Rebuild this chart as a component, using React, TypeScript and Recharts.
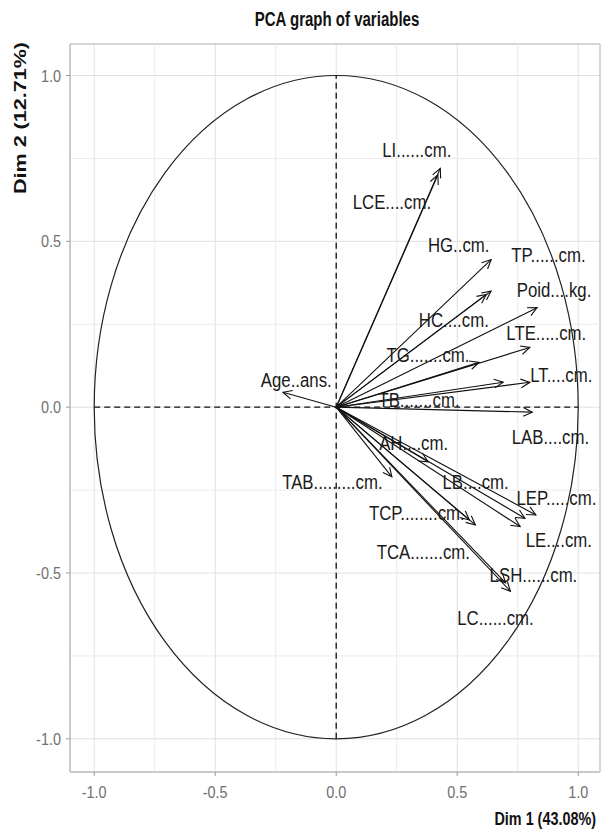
import React from 'react';
import { ScatterChart, Scatter, XAxis, YAxis, CartesianGrid, ReferenceLine, ReferenceArea } from 'recharts';

const variables = ['LI......cm.', 'LCE....cm.', 'HG..cm.', 'TP......cm.', 'HC....cm.', 'Poid....kg.', 'LTE.....cm.', 'TG.......cm.', 'TB.......cm.', 'LT....cm.', 'LAB....cm.', 'Age..ans.', 'AH....cm.', 'TAB.........cm.', 'LB....cm.', 'LEP.....cm.', 'LE....cm.', 'TCP........cm.', 'TCA.......cm.', 'LSH......cm.', 'LC......cm.'];
const dim1 = [0.43, 0.42, 0.64, 0.64, 0.62, 0.83, 0.8, 0.59, 0.69, 0.8, 0.81, -0.22, 0.38, 0.23, 0.78, 0.825, 0.76, 0.575, 0.55, 0.7, 0.72];
const dim2 = [0.72, 0.7, 0.445, 0.35, 0.34, 0.3, 0.18, 0.135, 0.075, 0.075, -0.015, 0.045, -0.165, -0.21, -0.335, -0.325, -0.36, -0.355, -0.34, -0.53, -0.555];
const labelDim1 = [0.333, 0.23, 0.506, 0.877, 0.486, 0.9, 0.868, 0.379, 0.342, 0.93, 0.885, -0.165, 0.32, -0.016, 0.576, 0.91, 0.92, 0.333, 0.36, 0.815, 0.658];
const labelDim2 = [0.777, 0.62, 0.49, 0.46, 0.264, 0.355, 0.225, 0.158, 0.023, 0.098, -0.089, 0.083, -0.107, -0.225, -0.225, -0.273, -0.4, -0.32, -0.436, -0.505, -0.635];

const xTicks = [-1, -0.5, 0, 0.5, 1];
const yTicks = [-1, -0.5, 0, 0.5, 1];
const minorTicks = [-0.75, -0.25, 0.25, 0.75];
const xDomain = [-1.1, 1.09];
const yDomain = [-1.1, 1.095];

const title = 'PCA graph of variables';
const xTitle = 'Dim 1 (43.08%)';
const yTitle = 'Dim 2 (12.71%)';

const labelData = variables.map((name, i) => ({ name, x: labelDim1[i], y: labelDim2[i] }));

const FONT = '"Liberation Sans", Arial, sans-serif';

const ArrowShape = (props: any) => {
  const { x1, y1, x2, y2 } = props;
  if ([x1, y1, x2, y2].some((v) => v == null || isNaN(v))) return null;
  const ang = Math.atan2(y2 - y1, x2 - x1);
  const len = 10;
  const a = Math.PI / 7;
  const p1 = [x2 - len * Math.cos(ang - a), y2 - len * Math.sin(ang - a)];
  const p2 = [x2 - len * Math.cos(ang + a), y2 - len * Math.sin(ang + a)];
  return (
    <g>
      <line x1={x1} y1={y1} x2={x2} y2={y2} stroke="#111" strokeWidth={1.1} />
      <polyline points={`${p1[0]},${p1[1]} ${x2},${y2} ${p2[0]},${p2[1]}`} fill="none" stroke="#111" strokeWidth={1.1} />
    </g>
  );
};

const EllipseShape = (props: any) => {
  const { x1, y1, x2, y2 } = props;
  if ([x1, y1, x2, y2].some((v) => v == null || isNaN(v))) return null;
  return (
    <ellipse cx={(x1 + x2) / 2} cy={(y1 + y2) / 2} rx={Math.abs(x2 - x1) / 2} ry={Math.abs(y2 - y1) / 2} fill="none" stroke="#222" strokeWidth={1.2} />
  );
};

const LabelShape = (props: any) => {
  const { cx, cy, payload } = props;
  if (cx == null || cy == null) return null;
  return (
    <g transform={`translate(${cx},${cy}) scale(0.8,1)`}>
      <text x={0} y={0} textAnchor="middle" dominantBaseline="central" fontSize={21} fontFamily={FONT} fill="#1a1a1a">
        {payload.name}
      </text>
    </g>
  );
};

const XTick = (props: any) => {
  const { x, y, payload } = props;
  return (
    <g transform={`translate(${x},${y + 20}) scale(0.85,1)`}>
      <text x={0} y={0} textAnchor="middle" fontSize={17} fontFamily={FONT} fill="#707070">
        {Number(payload.value).toFixed(1)}
      </text>
    </g>
  );
};

const YTick = (props: any) => {
  const { x, y, payload } = props;
  return (
    <g transform={`translate(${x - 3},${y + 6}) scale(0.85,1)`}>
      <text x={0} y={0} textAnchor="end" fontSize={17} fontFamily={FONT} fill="#707070">
        {Number(payload.value).toFixed(1)}
      </text>
    </g>
  );
};

const XTitle = () => (
  <g transform="translate(596,825) scale(0.8,1)">
    <text x={0} y={0} textAnchor="end" fontSize={18} fontWeight="bold" fontFamily={FONT} fill="#111">
      {xTitle}
    </text>
  </g>
);

const YTitle = () => (
  <text transform="translate(26,118) rotate(-90)" textAnchor="middle" fontSize={16} fontWeight="bold" fontFamily={FONT} fill="#111" textLength={152} lengthAdjust="spacingAndGlyphs">
    {yTitle}
  </text>
);

export default function App() {
  return (
    <div style={{ position: 'absolute', left: 0, top: 0, width: 604, height: 832, background: '#fff' }}>
      <div style={{ position: 'absolute', left: 0, top: 7, width: 674, fontFamily: FONT, fontWeight: 'bold', fontSize: 20, lineHeight: '24px', color: '#111', transform: 'scaleX(0.75)', transformOrigin: '337px 0', whiteSpace: 'nowrap' }}>
        <div style={{ width: 674, textAlign: 'center' }}>{title}</div>
      </div>
      <ScatterChart width={604} height={832} margin={{ top: 44, right: 4, bottom: 0, left: 0 }}>
        <CartesianGrid stroke="#e0e0e0" strokeWidth={1} />
        {minorTicks.map((v) => (
          <ReferenceLine key={'mx' + v} x={v} stroke="#ebebeb" strokeWidth={1} />
        ))}
        {minorTicks.map((v) => (
          <ReferenceLine key={'my' + v} y={v} stroke="#ebebeb" strokeWidth={1} />
        ))}
        <XAxis
          type="number"
          dataKey="x"
          domain={xDomain}
          ticks={xTicks}
          interval={0}
          allowDataOverflow
          height={60}
          tickSize={4}
          tickLine={{ stroke: '#9a9a9a' }}
          axisLine={{ stroke: '#bdbdbd' }}
          tick={<XTick />}
          label={<XTitle />}
        />
        <YAxis
          type="number"
          dataKey="y"
          domain={yDomain}
          ticks={yTicks}
          interval={0}
          allowDataOverflow
          width={70}
          tickSize={4}
          tickLine={{ stroke: '#9a9a9a' }}
          axisLine={{ stroke: '#bdbdbd' }}
          tick={<YTick />}
          label={<YTitle />}
        />
        <ReferenceArea x1={xDomain[0]} x2={xDomain[1]} y1={yDomain[0]} y2={yDomain[1]} fill="none" stroke="#bdbdbd" strokeWidth={1} ifOverflow="visible" />
        <ReferenceLine segment={[{ x: -1, y: -1 }, { x: 1, y: 1 }]} shape={<EllipseShape />} />
        <ReferenceLine segment={[{ x: -1, y: 0 }, { x: 1, y: 0 }]} stroke="#111" strokeWidth={1.3} strokeDasharray="6 4" />
        <ReferenceLine segment={[{ x: 0, y: -1 }, { x: 0, y: 1 }]} stroke="#111" strokeWidth={1.3} strokeDasharray="6 4" />
        {variables.map((name, i) => (
          <ReferenceLine key={name} segment={[{ x: 0, y: 0 }, { x: dim1[i], y: dim2[i] }]} shape={<ArrowShape />} />
        ))}
        <Scatter data={labelData} isAnimationActive={false} shape={<LabelShape />} />
      </ScatterChart>
    </div>
  );
}
